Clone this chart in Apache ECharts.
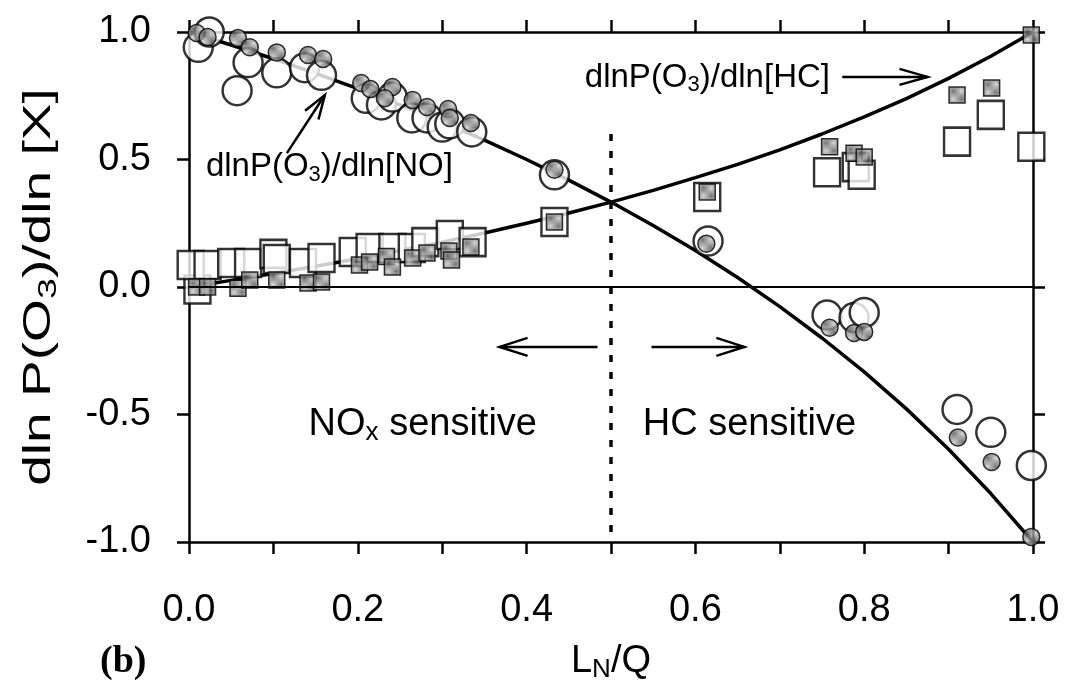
<!DOCTYPE html>
<html>
<head>
<meta charset="utf-8">
<script src="https://cdn.jsdelivr.net/npm/echarts@6/dist/echarts.min.js"></script>
<style>
html,body{margin:0;padding:0;background:#fff;}
#c{width:1065px;height:691px;}
</style>
</head>
<body>
<div id="c"></div>
<script>
// ---- data ----
const xTickLabels = ['0.0','0.2','0.4','0.6','0.8','1.0'];
const yTickLabels = ['-1.0','-0.5','0.0','0.5','1.0'];
const curveX  = [0.0,0.05,0.1,0.15,0.2,0.25,0.3,0.35,0.4,0.45,0.5,0.55,0.6,0.65,0.7,0.75,0.8,0.85,0.9,0.95,1.0];
const noCurve = [1.0,0.949,0.895,0.838,0.778,0.714,0.647,0.576,0.500,0.419,0.333,0.241,0.143,0.037,-0.077,-0.200,-0.333,-0.478,-0.636,-0.810,-1.0];
const hcCurve = [0.0,0.026,0.053,0.081,0.111,0.143,0.176,0.212,0.250,0.290,0.333,0.379,0.429,0.481,0.538,0.600,0.667,0.739,0.818,0.905,1.0];
const noOpen = [[0.011,0.94],[0.024,1.0],[0.057,0.77],[0.07,0.88],[0.104,0.84],[0.137,0.86],[0.157,0.83],
  [0.21,0.74],[0.228,0.714],[0.241,0.745],[0.264,0.663],[0.282,0.663],[0.30,0.627],[0.309,0.64],[0.335,0.608],
  [0.433,0.44],[0.615,0.18],[0.756,-0.11],[0.788,-0.12],[0.80,-0.10],[0.91,-0.48],[0.95,-0.57],[0.998,-0.70]];
const noFilled = [[0.009,0.996],[0.022,0.98],[0.058,0.976],[0.072,0.94],[0.104,0.92],[0.141,0.91],[0.159,0.894],
  [0.204,0.80],[0.215,0.776],[0.241,0.784],[0.232,0.74],[0.265,0.733],[0.282,0.706],[0.307,0.698],[0.309,0.663],[0.334,0.643],
  [0.433,0.46],[0.613,0.17],[0.759,-0.16],[0.788,-0.18],[0.80,-0.176],[0.911,-0.59],[0.951,-0.686],[0.998,-0.98]];
const hcOpen = [[0.01,-0.01],[0.002,0.086],[0.022,0.086],[0.05,0.094],[0.07,0.094],[0.10,0.13],[0.104,0.11],[0.135,0.094],[0.157,0.114],
  [0.194,0.137],[0.214,0.153],[0.241,0.153],[0.264,0.153],[0.28,0.176],[0.309,0.204],[0.336,0.176],
  [0.433,0.255],[0.614,0.353],[0.756,0.45],[0.79,0.47],[0.797,0.44],[0.91,0.57],[0.95,0.675],[0.998,0.55]];
const hcFilled = [[0.009,0.0],[0.022,0.0],[0.058,-0.005],[0.072,0.027],[0.104,0.027],[0.141,0.016],[0.157,0.02],
  [0.202,0.086],[0.214,0.098],[0.234,0.12],[0.241,0.078],[0.265,0.114],[0.282,0.133],[0.308,0.141],[0.311,0.106],[0.334,0.157],
  [0.433,0.255],[0.614,0.373],[0.759,0.55],[0.788,0.525],[0.80,0.51],[0.91,0.753],[0.951,0.78],[0.998,0.988]];

// ---- styling ----
const FONT = "'Liberation Sans',Arial,sans-serif";
const pc = document.createElement('canvas');
pc.width = 2; pc.height = 2;
const pctx = pc.getContext('2d');
pctx.fillStyle = '#d0d0d0'; pctx.fillRect(0,0,2,2);
pctx.fillStyle = '#505050'; pctx.fillRect(0,0,1,1); pctx.fillRect(1,1,1,1);
const stipple = {image: pc, repeat: 'repeat'};

const chart = echarts.init(document.getElementById('c'), null, {renderer:'canvas'});
const axisLine = {show:true, onZero:false, lineStyle:{color:'#000', width:2.5}};
const tick = {show:true, length:12, lineStyle:{color:'#000', width:2.5}};
const subRich = {
  a:{fontFamily:FONT, fontSize:38, color:'#000'},
  s:{fontFamily:FONT, fontSize:26, color:'#000', padding:[17,0,0,0]}
};
chart.setOption({
  animation:false,
  backgroundColor:'#fff',
  grid:{left:189, right:32, top:32, bottom:149},
  xAxis:[{
    type:'value', min:0, max:1, interval:0.1,
    axisLine:axisLine, axisTick:tick, splitLine:{show:false},
    axisLabel:{margin:50, fontFamily:FONT, fontSize:38, color:'#000',
      formatter:v=>{const i=Math.round(v*10); return i%2===0 ? xTickLabels[i/2] : '';}},
    name:'{a|L}{s|N}{a|/Q}', nameLocation:'middle', nameGap:98,
    nameTextStyle:{rich:subRich}
  },{
    type:'value', position:'top', min:0, max:1, interval:0.1,
    axisLine:axisLine, axisTick:tick, axisLabel:{show:false}, splitLine:{show:false}
  }],
  yAxis:[{
    type:'value', min:-1, max:1, interval:0.5,
    axisLine:axisLine, axisTick:tick, splitLine:{show:false},
    axisLabel:{margin:38, fontFamily:FONT, fontSize:38, color:'#000',
      formatter:v=>yTickLabels[Math.round((v+1)*2)]}
  },{
    type:'value', position:'right', min:-1, max:1, interval:0.5,
    axisLine:axisLine, axisTick:tick, axisLabel:{show:false}, splitLine:{show:false}
  }],
  series:[
    {type:'line', name:'NO curve', data:curveX.map((x,i)=>[x,noCurve[i]]), smooth:false, showSymbol:false,
     lineStyle:{color:'#000', width:3.5}, z:2,
     markLine:{silent:true, symbol:'none', label:{show:false},
       data:[[{coord:[0,0]},{coord:[1,0]}]],
       lineStyle:{color:'#000', width:2, type:'solid'}}},
    {type:'line', name:'HC curve', data:curveX.map((x,i)=>[x,hcCurve[i]]), smooth:false, showSymbol:false,
     lineStyle:{color:'#000', width:3.5}, z:2,
     markLine:{silent:true, symbol:'none', label:{show:false},
       data:[[{coord:[0.5,0.6]},{coord:[0.5,-1]}]],
       lineStyle:{color:'#000', width:3.5, type:[7,10]}}},
    {type:'scatter', name:'HC open', data:hcOpen, symbol:'rect', symbolSize:[26,28],
     itemStyle:{color:'#fff', borderColor:'#000', borderWidth:2.5}, z:3},
    {type:'scatter', name:'NO open', data:noOpen, symbol:'circle', symbolSize:29,
     itemStyle:{color:'#fff', borderColor:'#000', borderWidth:2.5}, z:3},
    {type:'scatter', name:'HC filled', data:hcFilled, symbol:'rect', symbolSize:16,
     itemStyle:{color:stipple, borderColor:'#000', borderWidth:1.5}, z:4},
    {type:'scatter', name:'NO filled', data:noFilled, symbol:'circle', symbolSize:17,
     itemStyle:{color:stipple, borderColor:'#000', borderWidth:1.5}, z:4}
  ]
});

// ---- annotations (positioned in data coordinates) ----
function P(x,y){return chart.convertToPixel({xAxisIndex:0,yAxisIndex:0},[x,y]);}
function arrow(from,to,len,spread){
  const a=P(from[0],from[1]), b=P(to[0],to[1]);
  const dx=b[0]-a[0], dy=b[1]-a[1], L=Math.hypot(dx,dy), ux=dx/L, uy=dy/L;
  const w1=[b[0]-ux*len-uy*spread, b[1]-uy*len+ux*spread];
  const w2=[b[0]-ux*len+uy*spread, b[1]-uy*len-ux*spread];
  return [
    {type:'line', shape:{x1:a[0],y1:a[1],x2:b[0],y2:b[1]}, style:{stroke:'#000', lineWidth:2.5}},
    {type:'polyline', shape:{points:[w1,b,w2]}, style:{stroke:'#000', lineWidth:2.5, fill:null}}
  ];
}
const annRich = {
  a:{fontFamily:FONT, fontSize:33, color:'#000'},
  s:{fontFamily:FONT, fontSize:22, color:'#000', padding:[15,0,0,0]}
};
const bigRich = {
  a:{fontFamily:FONT, fontSize:38, color:'#000'},
  s:{fontFamily:FONT, fontSize:26, color:'#000', padding:[17,0,0,0]}
};
function txt(x,y,text,rich,align){
  const p=P(x,y);
  return {type:'text', x:p[0], y:p[1], style:{text:text, rich:rich, align:align||'left', verticalAlign:'middle'}};
}
const g = [];
g.push(txt(0.02,0.47,'{a|dlnP(O}{s|3}{a|)/dln[NO]}',annRich));
g.push(txt(0.469,0.82,'{a|dlnP(O}{s|3}{a|)/dln[HC]}',annRich));
g.push(txt(0.277,-0.54,'{a|NO}{s|x}{a| sensitive}',bigRich,'center'));
g.push(txt(0.664,-0.54,'{a|HC sensitive}',bigRich,'center'));
g.push(...arrow([0.116,0.525],[0.161,0.753],24,8));
g.push(...arrow([0.774,0.824],[0.875,0.824],28,8));
g.push(...arrow([0.484,-0.235],[0.368,-0.235],28,9));
g.push(...arrow([0.548,-0.235],[0.658,-0.235],28,9));
// rotated y-axis title (stretched along its length like the scanned original)
const yc = P(0,0)[1];
g.push({type:'text', x:40, y:yc, rotation:Math.PI/2, scaleX:1.45,
  style:{text:'{a|dln P(O}{s|3}{a|)/dln [X]}', align:'center', verticalAlign:'middle',
    rich:{a:{fontFamily:FONT, fontSize:38, color:'#000'}, s:{fontFamily:FONT, fontSize:26, color:'#000', padding:[17,0,0,0]}}}});
g.push({type:'text', x:100, y:662, style:{text:'(b)', font:"bold 38px 'Liberation Serif','Times New Roman',serif", fill:'#000', verticalAlign:'middle'}});
chart.setOption({graphic:g});
</script>
</body>
</html>
